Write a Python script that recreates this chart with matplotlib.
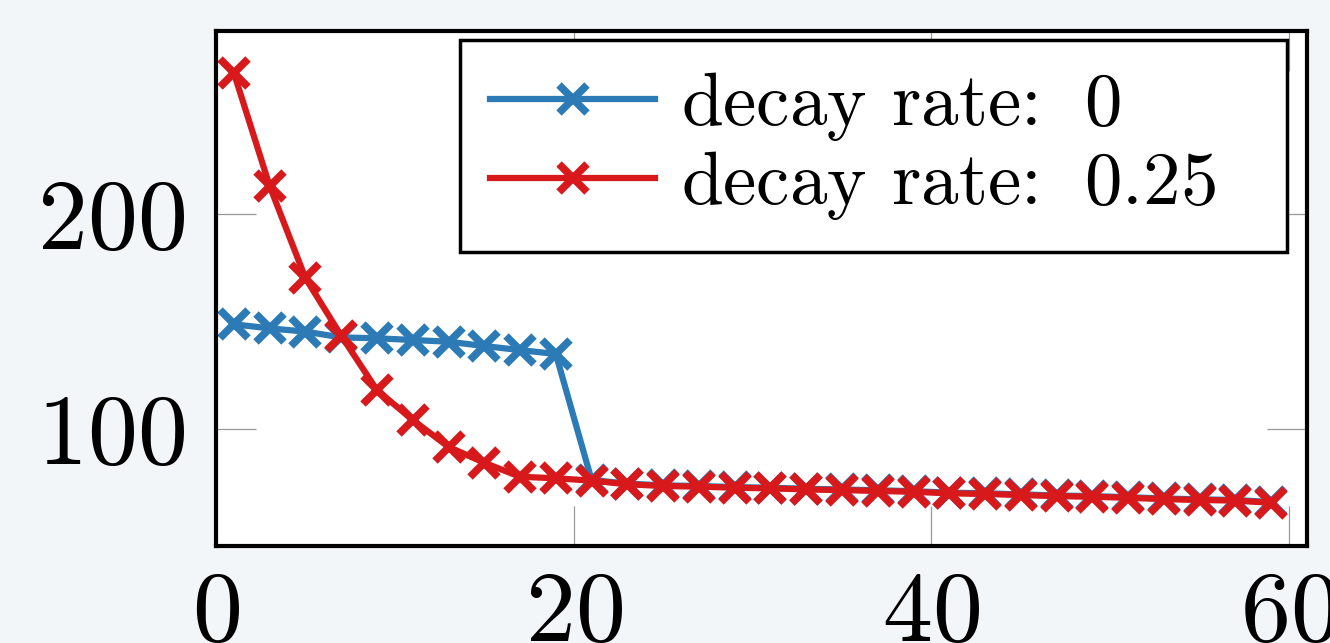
import matplotlib
matplotlib.use("Agg")
import matplotlib.pyplot as plt

plt.rcParams['font.family'] = 'serif'
plt.rcParams['font.serif'] = ['cmr10']
plt.rcParams['axes.formatter.use_mathtext'] = True
plt.rcParams['mathtext.fontset'] = 'cm'

x_vals = [1, 3, 5, 7, 9, 11, 13, 15, 17, 19, 21, 23, 25, 27, 29, 31, 33, 35, 37, 39,
          41, 43, 45, 47, 49, 51, 53, 55, 57, 59]

decay_0 = [148.7, 146.8, 145.3, 142.6, 142.2, 141.4, 140.6, 138.6, 136.7, 134.9,
           76.3, 74.6, 73.8, 73.5, 73.0, 72.7, 72.2, 71.9, 71.5, 71.1,
           70.4, 70.1, 69.6, 69.1, 68.8, 68.3, 67.7, 67.3, 67.0, 66.0]

decay_025 = [265.6, 213.0, 170.2, 143.4, 118.1, 104.2, 91.7, 84.3, 77.8, 77.1,
             76.0, 74.3, 73.5, 73.2, 72.7, 72.4, 71.9, 71.6, 71.2, 70.8,
             70.1, 69.8, 69.3, 68.8, 68.5, 68.0, 67.4, 67.0, 66.7, 65.7]

labels = [r'decay rate: $\;$0', r'decay rate: $\;$0.25']
colors = ['#2c7bb6', '#d7191c']
x_ticks = [0, 20, 40, 60]
y_ticks = [100, 200]

fig = plt.figure(figsize=(13.3, 6.43), dpi=100, facecolor='#f3f6f9')
ax = fig.add_axes([216/1330, (643-546)/643, (1307-216)/1330, (546-31)/643])
ax.set_facecolor('white')

for ys, lab, c in zip([decay_0, decay_025], labels, colors):
    ax.plot(x_vals, ys, color=c, lw=4.5, marker='x', ms=20, mew=5.5, label=lab,
            solid_joinstyle='miter')

ax.set_xlim(0, 61)
ax.set_ylim(45.6, 285.1)
ax.set_xticks(x_ticks)
ax.set_yticks(y_ticks)
ax.tick_params(direction='in', top=True, right=True, length=29, width=0.9,
               color='#999999', labelsize=72, pad=18)
ax.tick_params(axis='y', pad=22)
for s in ax.spines.values():
    s.set_linewidth(3)
    s.set_color('black')

ax_w = 1307 - 216
ax_h = 546 - 31
leg_x0 = (460 - 216) / ax_w
leg_w = (1287 - 460) / ax_w
leg_top = (546 - 40) / ax_h
leg = ax.legend(loc='upper left', bbox_to_anchor=(leg_x0, 0.3, leg_w, leg_top - 0.3),
                mode='expand', borderaxespad=0, fontsize=54, fancybox=False,
                framealpha=1, edgecolor='black', handlelength=2.2,
                handletextpad=0.35, labelspacing=0.08, borderpad=0.4)
leg.get_frame().set_linewidth(2.5)

fig.savefig('out.png', dpi=100, facecolor=fig.get_facecolor())
